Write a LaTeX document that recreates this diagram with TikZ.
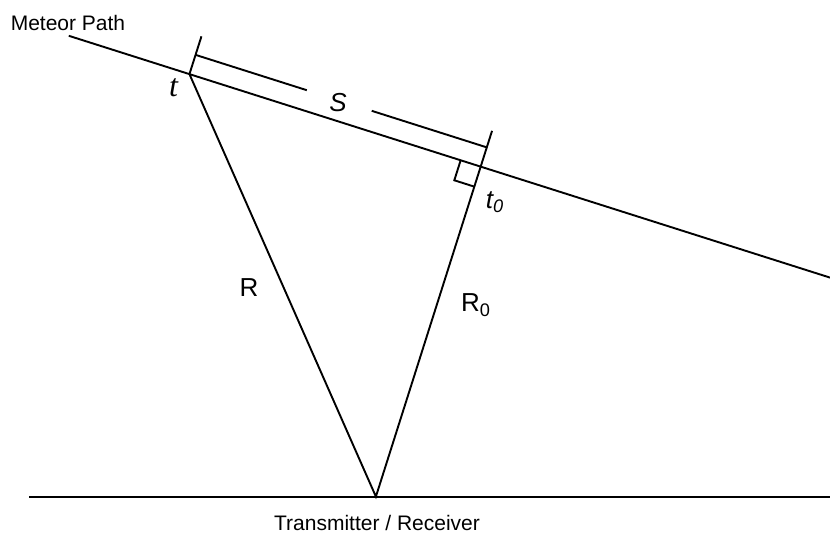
\documentclass[tikz,border=0pt]{standalone}
\usepackage{fontspec}
\setmainfont{Liberation Sans}
\newfontfamily\serifit{Liberation Serif}
\usetikzlibrary{calc}

\begin{document}
\begin{tikzpicture}[
  x=0.5pt, y=-0.5pt,
  line width=0.95pt,
  lbl/.style={font=\fontsize{13}{15}\selectfont, inner sep=0pt},
  caption/.style={font=\fontsize{10.5}{12}\selectfont, inner sep=0pt}
]
\useasboundingbox (0,0) rectangle (830,534);
% meteor path and ground
\coordinate (mstart) at (68.8,35.8);
\coordinate (mend) at (830,277.6);
\coordinate (tx) at (375.9,496.6);
\coordinate (gl) at (29,496.6);
\coordinate (gr) at (830,496.6);
\coordinate (t) at ($(mstart)!0.1585!(mend)$);
\coordinate (t0) at ($(mstart)!(tx)!(mend)$);
\draw (mstart) -- (mend);
\draw (gl) -- (gr);
\draw (t) -- (tx) -- (t0);
% ticks and S
\draw (t) -- ($(t)!19.8pt!90:(mend)$);
\draw (t0) -- ($(t0)!-18.8pt!(tx)$);
\coordinate (d1) at ($(t)!10.1pt!90:(mend)$);
\coordinate (d2) at ($(t0)!10.1pt!-90:(mstart)$);
\draw (d1) -- ($(d1)!0.382!(d2)$);
\draw ($(d1)!0.605!(d2)$) -- (d2);
% right angle
\coordinate (ra1) at ($(t0)!10.5pt!(mstart)$);
\coordinate (ra2) at ($(t0)!10.5pt!(tx)$);
\draw (ra1) -- ($(ra1)+(ra2)-(t0)$) -- (ra2);
% labels
\node[caption] (mlabel) at (68,22.5) {Meteor Path};
\node[caption] (trlabel) at (377,522.5) {Transmitter / Receiver};
\node[lbl, font=\fontsize{16}{18}\selectfont\serifit\itshape] (tlabel) at (173.5,88) {t};
\node[lbl] (slabel) at (338,103) {\itshape S};
\node[lbl] (t0label) at (495,202) {\itshape t\textsubscript{0}};
\node[lbl] (rlabel) at (249,288) {R};
\node[lbl] (r0label) at (476,305) {R\textsubscript{0}};
\end{tikzpicture}
\end{document}
